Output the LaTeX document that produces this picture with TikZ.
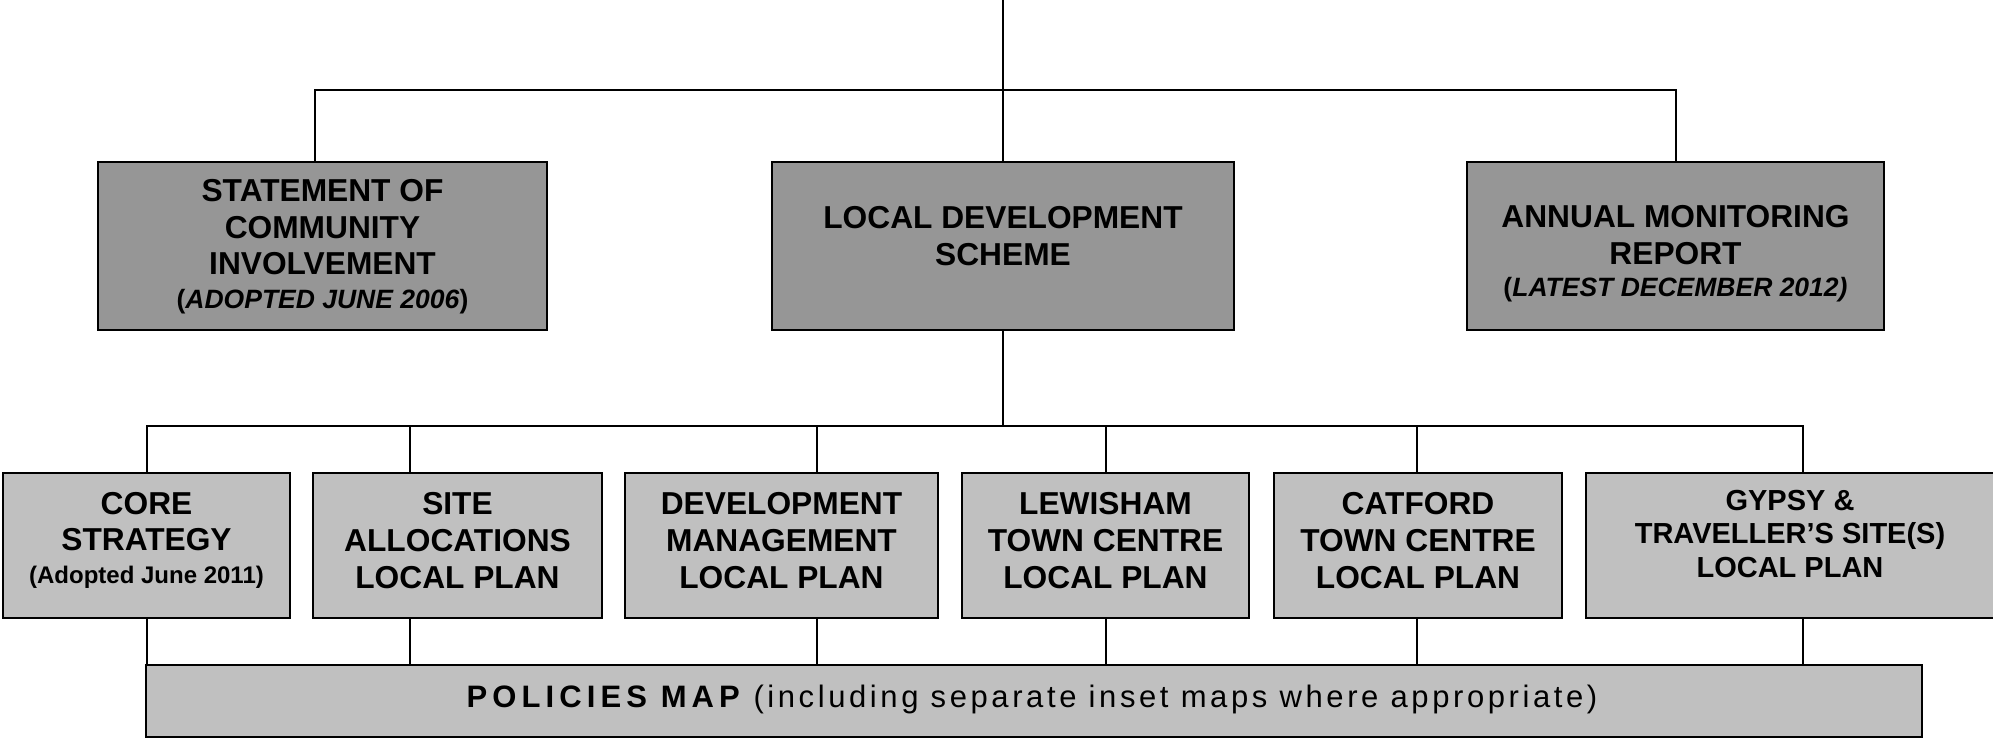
\documentclass[tikz,border=0pt]{standalone}
\usepackage{fontspec}
\setmainfont{Liberation Sans}
\definecolor{topgray}{RGB}{150,150,150}
\definecolor{botgray}{RGB}{192,192,192}
\newcommand\bigfont{\fontsize{31.7pt}{36.7pt}\selectfont\bfseries}
\newcommand\gypfont{\fontsize{29pt}{33.5pt}\selectfont\bfseries}
\newcommand\subfont{\fontsize{26.5pt}{32pt}\selectfont\bfseries}
\newcommand\coresubfont{\fontsize{24pt}{30pt}\selectfont\bfseries}
\begin{document}
\begin{tikzpicture}[x=1pt,y=-1pt,
  boxbase/.style={draw=black, line width=2pt, inner sep=0pt, outer sep=0pt},
  topbox/.style={boxbase, fill=topgray, minimum height=168pt},
  botbox/.style={boxbase, fill=botgray, minimum height=145pt},
  txt/.style={align=center, inner sep=0pt, anchor=base, font=\bigfont},
  conn/.style={draw=black, line width=2pt}]
\useasboundingbox (0,0) rectangle (1993,739);
% top row boxes
\node[topbox, minimum width=449pt] (soci) at (322.5,246) {};
\node[topbox, minimum width=462pt] (lds) at (1003,246) {};
\node[topbox, minimum width=417pt] (amr) at (1675.5,246) {};
% second row boxes
\node[botbox, minimum width=287pt] (core) at (146.5,545.5) {};
\node[botbox, minimum width=289pt] (site) at (457.5,545.5) {};
\node[botbox, minimum width=313pt] (dev) at (781.5,545.5) {};
\node[botbox, minimum width=287pt] (lew) at (1105.5,545.5) {};
\node[botbox, minimum width=288pt] (cat) at (1418,545.5) {};
\node[botbox, minimum width=414pt] (gyp) at (1793,545.5) {};
% policies map
\node[boxbase, fill=botgray, minimum width=1776pt, minimum height=72pt] (pol) at (1034,701) {};
% texts (base anchor = baseline of the last line)
\node[txt] (soci-t) at (322.5,308) {STATEMENT OF\\COMMUNITY\\INVOLVEMENT\\[-3.5pt]{\subfont(\textit{ADOPTED JUNE 2006})}};
\node[txt] (lds-t) at (1003,265) {LOCAL DEVELOPMENT\\SCHEME};
\node[txt] (amr-t) at (1675.5,296) {ANNUAL MONITORING\\REPORT\\[-5pt]{\subfont(\textit{LATEST DECEMBER 2012)}}};
\node[txt] (core-t) at (146.5,583) {CORE\\STRATEGY\\[-4.5pt]{\coresubfont(Adopted June 2011)}};
\node[txt] (site-t) at (457.5,588) {SITE\\ALLOCATIONS\\LOCAL PLAN};
\node[txt] (dev-t) at (781.5,588) {DEVELOPMENT\\MANAGEMENT\\LOCAL PLAN};
\node[txt] (lew-t) at (1105.5,588) {LEWISHAM\\TOWN CENTRE\\LOCAL PLAN};
\node[txt] (cat-t) at (1418,588) {CATFORD\\TOWN CENTRE\\LOCAL PLAN};
\node[txt, font=\gypfont] (gyp-t) at (1790,577) {GYPSY \&\\TRAVELLER’S SITE(S)\\LOCAL PLAN};
\node[inner sep=0pt, anchor=base] (pol-t) at (1032,707) {\fontsize{31pt}{36pt}\selectfont{\bfseries\addfontfeature{LetterSpace=16.5}POLICIES MAP}\hspace{5pt} {\addfontfeature{LetterSpace=11.6}(including separate inset maps where appropriate)}};
% connectors
\coordinate (topend) at (1003,0);
\coordinate (bar1) at (1003,90);
\coordinate (bar2) at (1003,425.5);
\draw[conn] (topend) -- (lds.north);
\draw[conn] ([xshift=-7.5pt]soci.north) |- (bar1) -| (amr.north);
\draw[conn] (lds.south) -- (bar2);
\draw[conn] ([xshift=0.5pt]core.north) |- (bar2) -| ([xshift=10pt]gyp.north);
\draw[conn] ([xshift=-47.5pt]site.north) -- ([xshift=-47.5pt]site.north |- bar2);
\draw[conn] ([xshift=35.5pt]dev.north) -- ([xshift=35.5pt]dev.north |- bar2);
\draw[conn] (lew.north) -- (lew.north |- bar2);
\draw[conn] ([xshift=-1pt]cat.north) -- ([xshift=-1pt]cat.north |- bar2);
\draw[conn] ([xshift=0.5pt]core.south) -- ([xshift=0.5pt]core.south |- pol.north);
\draw[conn] ([xshift=-47.5pt]site.south) -- ([xshift=-47.5pt]site.south |- pol.north);
\draw[conn] ([xshift=35.5pt]dev.south) -- ([xshift=35.5pt]dev.south |- pol.north);
\draw[conn] (lew.south) -- (lew.south |- pol.north);
\draw[conn] ([xshift=-1pt]cat.south) -- ([xshift=-1pt]cat.south |- pol.north);
\draw[conn] ([xshift=10pt]gyp.south) -- ([xshift=10pt]gyp.south |- pol.north);
\end{tikzpicture}
\end{document}
